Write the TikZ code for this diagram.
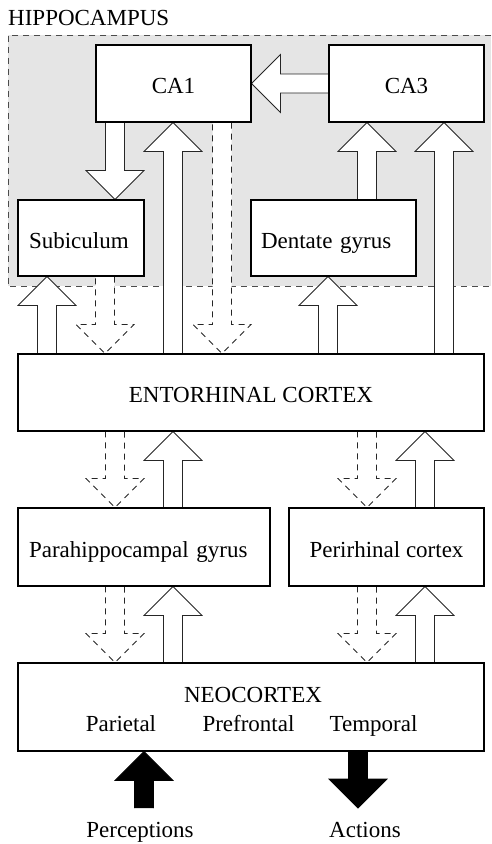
\documentclass[tikz,border=0pt]{standalone}
\usepackage{fontspec}
\setmainfont{Liberation Serif}
\usetikzlibrary{calc}
\pgfdeclarelayer{back}
\pgfdeclarelayer{arrows}
\pgfsetlayers{back,arrows,main}

\begin{document}
\begin{tikzpicture}[x=1pt,y=-1pt,
            font=\fontsize{23pt}{27pt}\selectfont,
            box/.style={draw,fill=white,line width=1.1pt,inner sep=0pt,
                text height=20pt,text depth=0pt},
            region/.style={fill=black!10,inner sep=0pt},
            region border/.style={draw=black!70,line width=0.8pt,
                dash pattern=on 6pt off 5pt},
            wide arrow/.style={line width=0.8pt,to path={
                let \p1=($(\tikztotarget)!29pt!(\tikztostart)$) in
                ($(\tikztostart)!9.5pt!90:(\tikztotarget)$)
                -- ($(\p1)!9.5pt!90:(\tikztotarget)$)
                -- ($(\p1)!29pt!90:(\tikztotarget)$)
                -- (\tikztotarget)
                -- ($(\p1)!29pt!-90:(\tikztotarget)$)
                -- ($(\p1)!9.5pt!-90:(\tikztotarget)$)
                -- ($(\tikztostart)!9.5pt!-90:(\tikztotarget)$)}},
            forward/.style={wide arrow,fill=white,draw=black!85},
            backward/.style={forward,dash pattern=on 6pt off 5pt},
            io/.style={wide arrow,fill=black,draw=black}]

        \useasboundingbox (0,0) rectangle (491,844);

        % Hippocampus (runs off the right edge)
        \begin{pgfonlayer}{back}
            \node[region,minimum width=483pt,minimum height=251pt,
                anchor=north west] (hippo) at (8,35) {};
            \draw[region border] (hippo.north east) -- (hippo.north west)
                -- (hippo.south west) -- (hippo.south east);
        \end{pgfonlayer}
        \node[anchor=base west,inner sep=0pt] (hippolbl) at (8,25) {HIPPOCAMPUS};

        % Define areas
        \node[box,minimum width=155pt,minimum height=77pt] (ca1) at (173.5,83.5) {CA1};
        \node[box,minimum width=155pt,minimum height=77pt] (ca3) at (406.5,83.5) {CA3};
        \node[box,minimum width=126pt,minimum height=76pt,text width=104pt,
            inner xsep=11pt,align=left] (sub) at (81,238) {Subiculum};
        \node[box,minimum width=165pt,minimum height=76pt,text width=145pt,
            inner xsep=10pt,align=left] (dg) at (333.5,238) {Dentate gyrus};
        \node[box,minimum width=466pt,minimum height=77pt] (ec) at (251,392.5) {ENTORHINAL CORTEX};
        \node[box,minimum width=252pt,minimum height=78pt,text width=230pt,
            inner xsep=11pt,align=left] (phg) at (144,547) {Parahippocampal gyrus};
        \node[box,minimum width=195pt,minimum height=78pt] (prc) at (386.5,547) {Perirhinal cortex};
        \node[box,minimum width=466pt,minimum height=88pt] (neo) at (251,707) {};
        \node[anchor=base] (neolbl) at (253,702) {NEOCORTEX};
        \node[anchor=base] (par) at (121,731) {Parietal};
        \node[anchor=base] (pfc) at (248.5,731) {Prefrontal};
        \node[anchor=base] (tmp) at (373.5,731) {Temporal};

        % Input and output
        \node[anchor=base] (perc) at (140,837) {Perceptions};
        \node[anchor=base] (act) at (365,837) {Actions};
        \coordinate (percin) at (144,808);
        \coordinate (actout) at (358,808);

        % Draw pathways
        \begin{pgfonlayer}{arrows}
        \path
            (ca3.west) edge[forward] (ca1.east)
            (115,0 |- ca1.south) edge[forward] (115,0 |- sub.north)
            (173,0 |- ec.north) edge[forward] (173,0 |- ca1.south)
            (222,0 |- ca1.south) edge[backward] (222,0 |- ec.north)
            (367,0 |- dg.north) edge[forward] (367,0 |- ca3.south)
            (444,0 |- ec.north) edge[forward] (444,0 |- ca3.south)
            (47,0 |- ec.north) edge[forward] (47,0 |- sub.south)
            (105,0 |- sub.south) edge[backward] (105,0 |- ec.north)
            (328,0 |- ec.north) edge[forward] (328,0 |- dg.south)
            (115,0 |- ec.south) edge[backward] (115,0 |- phg.north)
            (173,0 |- phg.north) edge[forward] (173,0 |- ec.south)
            (367,0 |- ec.south) edge[backward] (367,0 |- prc.north)
            (425,0 |- prc.north) edge[forward] (425,0 |- ec.south)
            (115,0 |- phg.south) edge[backward] (115,0 |- neo.north)
            (173,0 |- neo.north) edge[forward] (173,0 |- phg.south)
            (367,0 |- prc.south) edge[backward] (367,0 |- neo.north)
            (425,0 |- neo.north) edge[forward] (425,0 |- prc.south)
            (percin) edge[io] (144,0 |- neo.south)
            (358,0 |- neo.south) edge[io] (actout);
        \end{pgfonlayer}

\end{tikzpicture}
\end{document}
